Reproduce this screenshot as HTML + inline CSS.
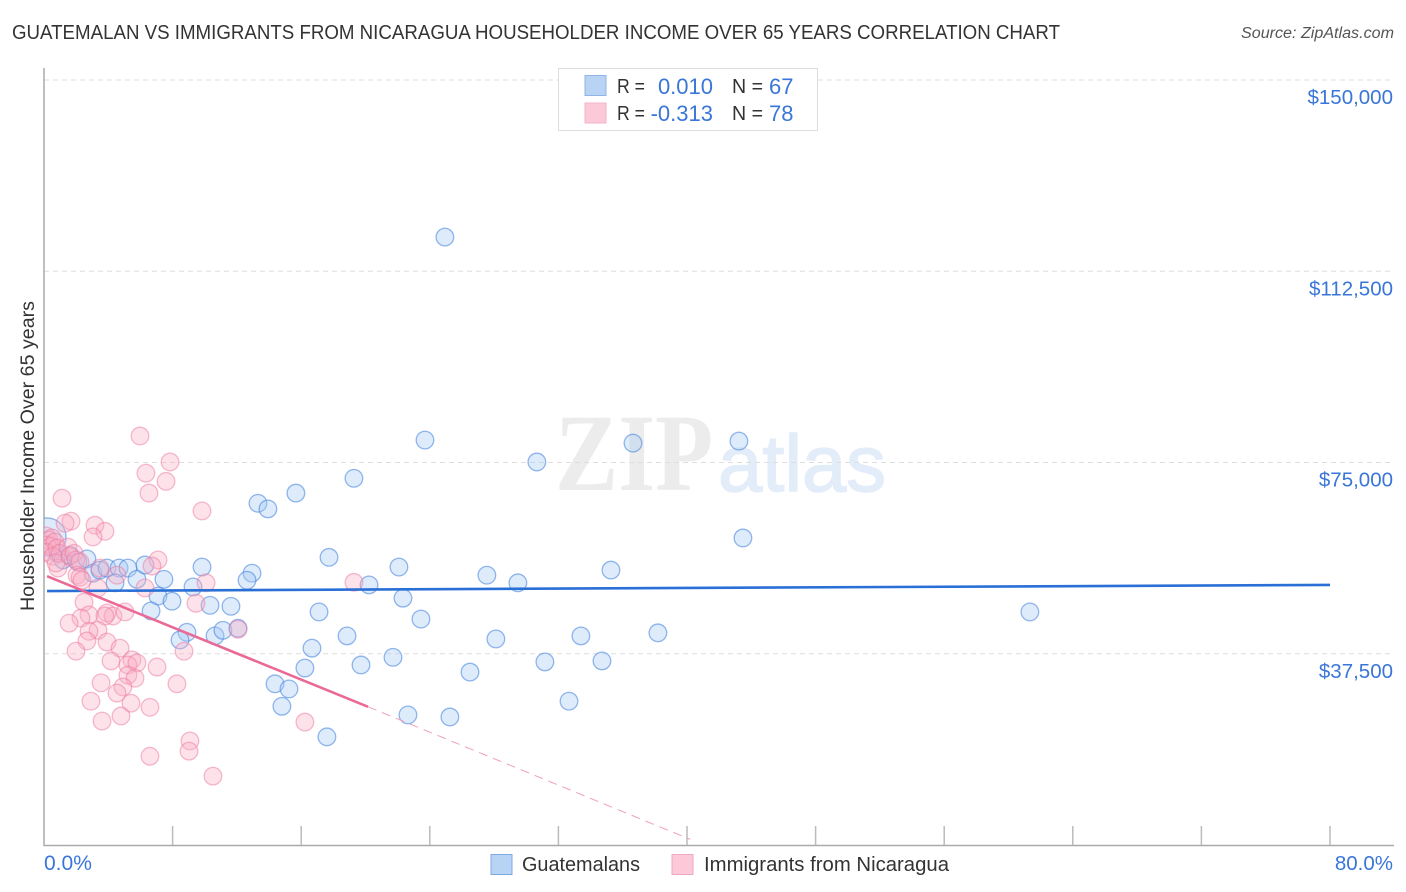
<!DOCTYPE html>
<html>
<head>
<meta charset="utf-8">
<title>Guatemalan vs Immigrants from Nicaragua Householder Income Correlation Chart</title>
<style>
html,body{margin:0;padding:0;background:#fff;width:1406px;height:892px;overflow:hidden}
svg{display:block;font-family:"Liberation Sans",sans-serif}
</style>
</head>
<body>
<svg id="chart" width="1406" height="892" viewBox="0 0 1406 892">
<defs><clipPath id="plot-clip"><rect x="44" y="68" width="1350" height="777"/></clipPath></defs>
<text x="12" y="39" font-size="20" fill="#333" textLength="1048" lengthAdjust="spacingAndGlyphs">GUATEMALAN VS IMMIGRANTS FROM NICARAGUA HOUSEHOLDER INCOME OVER 65 YEARS CORRELATION CHART</text>
<text x="1394" y="38" font-size="15.5" font-style="italic" fill="#555" text-anchor="end" textLength="153" lengthAdjust="spacingAndGlyphs">Source: ZipAtlas.com</text>
<text x="555" y="490" font-size="110" font-weight="bold" font-family="'Liberation Serif',serif" fill="#ececec" textLength="158" lengthAdjust="spacingAndGlyphs">ZIP</text>
<text x="718" y="491" font-size="80" fill="#e3ecf9" stroke="#e3ecf9" stroke-width="1.5" textLength="168" lengthAdjust="spacingAndGlyphs">atlas</text>
<g id="grid"></g>
<g id="axes"></g>
<g id="points" clip-path="url(#plot-clip)"></g>
<g id="trends" clip-path="url(#plot-clip)"></g>
<text transform="translate(34,456) rotate(-90)" font-size="19" fill="#333" text-anchor="middle" textLength="310" lengthAdjust="spacingAndGlyphs">Householder Income Over 65 years</text>
<g>
<rect x="558.5" y="68.5" width="259" height="62" fill="#fff" stroke="#ddd"/>
<rect x="585" y="75.5" width="21" height="20" fill="#b8d3f4" stroke="#8fb5e6"/>
<rect x="585" y="103" width="21" height="20" fill="#fbc9d8" stroke="#f3b3c8"/>
<g font-size="20" fill="#333">
<text x="617" y="93" textLength="28" lengthAdjust="spacingAndGlyphs">R =</text>
<text x="732" y="93" textLength="31" lengthAdjust="spacingAndGlyphs">N =</text>
<text x="617" y="120" textLength="28" lengthAdjust="spacingAndGlyphs">R =</text>
<text x="732" y="120" textLength="31" lengthAdjust="spacingAndGlyphs">N =</text>
</g>
<g font-size="22" fill="#3a76d8">
<text x="713" y="94" text-anchor="end">0.010</text>
<text x="769" y="94">67</text>
<text x="713" y="121" text-anchor="end">-0.313</text>
<text x="769" y="121">78</text>
</g>
</g>
<g>
<rect x="491" y="854.5" width="21" height="20" fill="#b8d3f4" stroke="#7faae0"/>
<text x="522" y="871" font-size="20" fill="#333" textLength="118" lengthAdjust="spacingAndGlyphs">Guatemalans</text>
<rect x="672" y="854.5" width="21" height="20" fill="#fbc9d8" stroke="#f0a9c0"/>
<text x="704" y="871" font-size="20" fill="#333" textLength="245" lengthAdjust="spacingAndGlyphs">Immigrants from Nicaragua</text>
</g>
</svg>
<script>
const yTickValues = [37500, 75000, 112500, 150000];
const yTickLabels = ["$37,500", "$75,000", "$112,500", "$150,000"];
const xTickValues = [8, 16, 24, 32, 40, 48, 56, 64, 72, 80];
const xEndLabels = ["0.0%", "80.0%"];
const guatemalanPct = [0.19,24.94,23.70,36.64,43.23,30.66,19.28,15.67,13.31,13.93,43.48,17.73,61.33,0.87,1.18,1.62,2.11,2.67,3.05,3.48,3.92,4.67,5.22,4.42,5.78,6.28,7.46,9.83,9.27,12.94,12.63,7.09,7.96,6.66,10.33,11.63,8.89,8.46,10.64,11.13,12.07,20.22,22.08,22.33,27.55,29.48,35.27,17.11,23.45,18.85,16.67,28.11,33.40,38.19,16.23,19.72,21.71,31.16,34.71,26.50,14.37,15.24,14.80,32.66,22.64,25.25,17.60];
const guatemalanIncome = [60400,119200,79400,78800,79200,75100,71900,69000,67000,65900,60200,56400,45700,57200,55900,56800,55500,56100,53300,53900,54300,54300,54300,51400,52100,54900,52100,54500,50600,53300,51900,48800,47800,45900,47000,46800,41700,40200,41000,42100,42500,51000,54500,48400,52900,51400,53900,45700,44300,41000,38600,40400,41000,41600,34700,35300,36800,35900,36100,33900,31600,30600,27200,28200,25500,25100,21200];
const guatemalanSizes = [19];
const nicaraguaPct = [5.97,7.84,6.34,7.59,6.53,1.12,9.83,1.68,1.31,3.17,3.79,3.05,0.12,0.31,0.50,0.19,0.44,0.68,0.12,0.81,0.56,1.00,0.87,0.75,1.49,1.62,1.87,1.99,2.24,2.05,2.24,2.36,3.48,4.54,3.36,7.09,6.72,6.28,10.08,19.28,9.45,2.49,2.80,2.30,1.56,3.92,4.29,5.04,3.79,3.36,2.80,2.67,1.99,3.92,4.73,8.71,4.17,5.47,5.22,5.78,7.03,5.22,5.66,3.55,8.27,4.91,4.54,2.92,5.41,6.59,4.79,3.61,16.23,9.08,9.02,6.59,10.51,12.07];
const nicaraguaIncome = [80200,75100,72900,71300,69000,68000,65500,63500,63100,62700,61500,60400,60600,59800,60200,58800,58600,59400,57400,58200,56600,57200,54300,55300,58400,56600,57200,55900,55500,52900,52500,51900,54300,52900,50400,55900,54700,50400,51400,51500,47400,47600,45100,44500,43500,45500,44900,45700,44900,42100,41900,40000,38000,39800,38600,38000,36100,36300,35300,35700,34900,33300,32700,31800,31600,31000,29800,28200,27800,27000,25300,24300,24100,20400,18400,17400,13500,42300];
const guatemalanTrendPct = [0.19, 80];
const guatemalanTrendIncome = [49800, 51000];
const nicaraguaSolidPct = [0.19, 20.16];
const nicaraguaSolidIncome = [52700, 27100];
const nicaraguaDashPct = [20.16, 40.2];
const nicaraguaDashIncome = [27100, 1100];

const NS = "http://www.w3.org/2000/svg";
function xScale(p) { return 44 + p * 16.075; }
function yScale(v) { return 845 - v * 0.0051; }
function make(parent, tag, attrs, text) {
  const el = document.createElementNS(NS, tag);
  for (const k in attrs) el.setAttribute(k, attrs[k]);
  if (text !== undefined) el.textContent = text;
  parent.appendChild(el);
  return el;
}
const grid = document.getElementById("grid");
const axes = document.getElementById("axes");
const points = document.getElementById("points");
const trends = document.getElementById("trends");

yTickValues.forEach(function (v, i) {
  const y = yScale(v);
  const line = make(grid, "line", {x1: 44, x2: 1394, y1: y, y2: y, stroke: "#dedede", "stroke-width": 1, "stroke-dasharray": "5 4"});
  
  
  const label = make(axes, "text", {x: 1393, y: y + 24, "font-size": 20.5, fill: "#3a76d8", "text-anchor": "end"}, yTickLabels[i]);
  
  
});

const yAxis = make(axes, "line", {x1: 44, x2: 44, y1: 68, y2: 846, stroke: "#aaa", "stroke-width": 1.5});


const xAxis = make(axes, "line", {x1: 44, x2: 1394, y1: 845.5, y2: 845.5, stroke: "#aaa", "stroke-width": 1.5});



xTickValues.forEach(function (p) {
  const x = xScale(p);
  const tick = make(axes, "line", {x1: x, x2: x, y1: 826, y2: 845, stroke: "#bbb", "stroke-width": 1.5});
  
  
});
const xStart = make(axes, "text", {x: 44, y: 870, "font-size": 21, fill: "#3a76d8"}, xEndLabels[0]);


const xEnd = make(axes, "text", {x: 1393, y: 870, "font-size": 20.5, fill: "#3a76d8", "text-anchor": "end"}, xEndLabels[1]);



guatemalanPct.forEach(function (p, i) {
  const dot = make(points, "circle", {cx: xScale(p), cy: yScale(guatemalanIncome[i]), r: guatemalanSizes[i] || 8.8, fill: "rgba(165,202,245,0.38)", stroke: "rgba(60,125,220,0.55)", "stroke-width": 1.3});
  
  
});
nicaraguaPct.forEach(function (p, i) {
  const dot = make(points, "circle", {cx: xScale(p), cy: yScale(nicaraguaIncome[i]), r: 8.8, fill: "rgba(250,175,198,0.36)", stroke: "rgba(238,120,160,0.5)", "stroke-width": 1.3});
  
  
});

const blueTrend = make(trends, "line", {x1: xScale(guatemalanTrendPct[0]), x2: xScale(guatemalanTrendPct[1]), y1: yScale(guatemalanTrendIncome[0]), y2: yScale(guatemalanTrendIncome[1]), stroke: "#2a6fd6", "stroke-width": 2.6});


const pinkTrend = make(trends, "line", {x1: xScale(nicaraguaSolidPct[0]), x2: xScale(nicaraguaSolidPct[1]), y1: yScale(nicaraguaSolidIncome[0]), y2: yScale(nicaraguaSolidIncome[1]), stroke: "#ea6a95", "stroke-width": 2.6});


const pinkDash = make(trends, "line", {x1: xScale(nicaraguaDashPct[0]), x2: xScale(nicaraguaDashPct[1]), y1: yScale(nicaraguaDashIncome[0]), y2: yScale(nicaraguaDashIncome[1]), stroke: "#f0a0bb", "stroke-width": 1, "stroke-dasharray": "9 6"});


</script>
</body>
</html>
